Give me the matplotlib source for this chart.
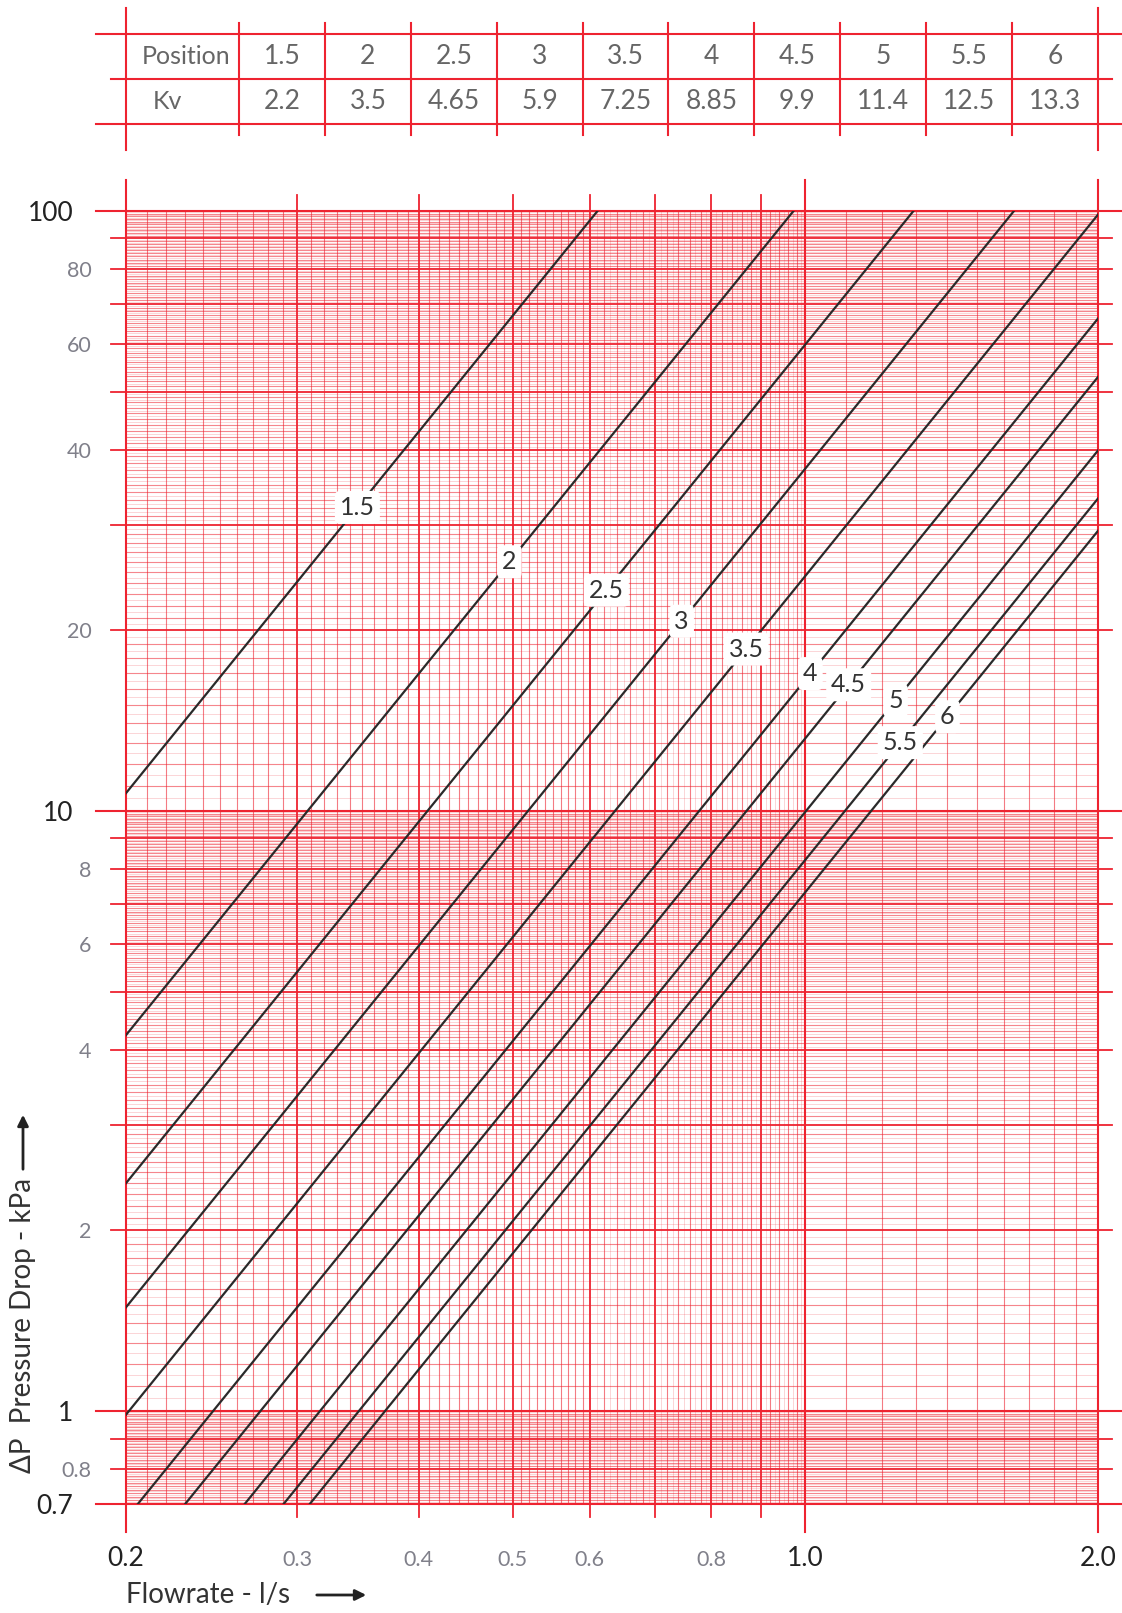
import numpy as np
import matplotlib.pyplot as plt

plt.rcParams['font.family'] = ['Lato', 'DejaVu Sans']

# valve positions and their Kv (m3/h at 1 bar)
positions = ['1.5', '2', '2.5', '3', '3.5', '4', '4.5', '5', '5.5', '6']
kv = [2.2, 3.5, 4.65, 5.9, 7.25, 8.85, 9.9, 11.4, 12.5, 13.3]
# flowrate where each curve carries its label
label_q = [0.346, 0.496, 0.624, 0.746, 0.869, 1.012, 1.108, 1.238, 1.252, 1.400]

x_major = [0.2, 1.0, 2.0]
x_medium = [0.3, 0.4, 0.5, 0.6, 0.7, 0.8, 0.9]
x_minor_labels = [0.3, 0.4, 0.5, 0.6, 0.8]
y_major = [100, 10, 1, 0.7]
y_minor_labels = [80, 60, 40, 20, 8, 6, 4, 2, 0.8]

RED = '#ee2330'
W, H = 1122, 1613


def pressure_drop(q, kv):
    # q in l/s -> kPa
    return 100.0 * (3.6 * np.asarray(q) / kv) ** 2


def drop_close(vals, ref):
    return np.array([v for v in vals if not np.any(np.isclose(v, ref))])


fig = plt.figure(figsize=(W / 100, H / 100), dpi=100)

# ---- main chart ----
left, right, top, bottom = 126, 1098, 211, 1504
ax = fig.add_axes([left / W, 1 - bottom / H, (right - left) / W, (bottom - top) / H])
ax.set_xscale('log')
ax.set_yscale('log')
for s in ax.spines.values():
    s.set_visible(False)

aw, ah = right - left, bottom - top

# vertical grid
x_minor = np.r_[np.linspace(0.2, 0.6, 41), np.linspace(0.6, 1.0, 21), np.linspace(1.0, 2.0, 11)]
x_minor = drop_close(x_minor, x_major + x_medium)
x_faint = np.linspace(0.61, 0.99, 20)
for x in x_faint:
    ax.axvline(x, 0, 1, color=RED, lw=0.6, alpha=0.22, zorder=1)
for x in x_minor:
    ax.axvline(x, 0, 1, color=RED, lw=0.8, alpha=0.6, zorder=1)
for x in x_medium:
    ax.axvline(x, -13 / ah, 1 + 16 / ah, color=RED, lw=1.3, clip_on=False, zorder=2)
for x in x_major:
    ax.axvline(x, -28 / ah, 1 + 31 / ah, color=RED, lw=1.5, clip_on=False, zorder=2)

# horizontal grid
y_strong, y_faint, y_medium = [], [], []
for d in [0.1, 1, 10]:
    vals = d * np.linspace(1, 10, 181)
    for i, v in enumerate(vals):
        if v < 0.7 - 1e-9 or v > 100 + 1e-9:
            continue
        if i % 20 == 0:
            if not np.any(np.isclose(v, y_major)):
                y_medium.append(v)
        elif i % 2 == 0:
            y_strong.append(v)
        else:
            y_faint.append(v)
y_medium = drop_close(y_medium, y_major)
for y in y_faint:
    ax.axhline(y, 0, 1, color=RED, lw=0.6, alpha=0.22, zorder=1)
for y in y_strong:
    ax.axhline(y, 0, 1, color=RED, lw=0.8, alpha=0.55, zorder=1)
for y in y_medium:
    ax.axhline(y, -15 / aw, 1 + 14 / aw, color=RED, lw=1.3, clip_on=False, zorder=2)
for y in y_major:
    ax.axhline(y, -30 / aw, 1 + 24 / aw, color=RED, lw=1.5, clip_on=False, zorder=2)

# valve curves
q = np.geomspace(0.2, 2.0, 300)
for pos, k, ql in zip(positions, kv, label_q):
    ax.plot(q, pressure_drop(q, k), color='#2a2a2a', lw=1.6, zorder=3)
    ax.text(ql, pressure_drop(ql, k), pos, ha='center', va='center', fontsize=18,
            color='#333333', zorder=5,
            bbox=dict(boxstyle='round,pad=0.2', fc='white', ec='none'))

ax.set_xlim(0.2, 2.0)
ax.set_ylim(0.7, 100)

ax.set_xticks(x_major, [f'{v:.1f}' for v in x_major])
ax.set_xticks(x_minor_labels, [f'{v:g}' for v in x_minor_labels], minor=True)
ax.set_yticks(y_major, [f'{v:g}' for v in y_major])
ax.set_yticks(y_minor_labels, [f'{v:g}' for v in y_minor_labels], minor=True)
ax.tick_params(which='both', length=0)
ax.tick_params(axis='x', which='major', pad=30, labelsize=19, labelcolor='#222222')
ax.tick_params(axis='x', which='minor', pad=33, labelsize=15.5, labelcolor='#80808a')
ax.tick_params(axis='y', which='major', pad=38, labelsize=19, labelcolor='#222222')
ax.tick_params(axis='y', which='minor', pad=25, labelsize=15.5, labelcolor='#80808a')

# axis titles with arrows
fig.text(126 / W, 1 - 1595 / H, 'Flowrate - l/s', ha='left', va='center',
         fontsize=20, color='#333333')
ax.annotate('', xy=(369, H - 1595), xytext=(314, H - 1595), xycoords='figure pixels',
            arrowprops=dict(arrowstyle='-|>', lw=2, color='#222222', mutation_scale=16))
fig.text(23 / W, 1 - 1473 / H, 'ΔP  Pressure Drop - kPa', rotation=90, ha='center',
         va='bottom', fontsize=20, color='#333333')
ax.annotate('', xy=(23, H - 1112), xytext=(23, H - 1172), xycoords='figure pixels',
            arrowprops=dict(arrowstyle='-|>', lw=2, color='#222222', mutation_scale=16))

# ---- Position / Kv table ----
tab = fig.add_axes([0, 1 - 160 / H, 1, 160 / H])
tab.set_xlim(0, W)
tab.set_ylim(160, 0)
tab.axis('off')

rows = [34, 79, 124]
edges = np.linspace(239, 1098, len(positions) + 1)
tab.plot([96, W], [rows[0]] * 2, color=RED, lw=1.5)
tab.plot([111, 1112], [rows[1]] * 2, color=RED, lw=1.5)
tab.plot([96, W], [rows[2]] * 2, color=RED, lw=1.5)
for xe in [126, 1098]:
    tab.plot([xe, xe], [8, 150], color=RED, lw=1.5)
for xe in edges[:-1]:
    tab.plot([xe, xe], [23, 135], color=RED, lw=1.5)

ymid1 = (rows[0] + rows[1]) / 2
ymid2 = (rows[1] + rows[2]) / 2
txt = dict(va='center', color='#666666')
tab.text(142, ymid1, 'Position', ha='left', fontsize=18, **txt)
tab.text(153, ymid2, 'Kv', ha='left', fontsize=18, **txt)
centers = (edges[:-1] + edges[1:]) / 2
for c, pos, k in zip(centers, positions, kv):
    tab.text(c, ymid1, pos, ha='center', fontsize=19, **txt)
    tab.text(c, ymid2, f'{k:g}', ha='center', fontsize=19, **txt)

fig.savefig('out.png', dpi=100)
